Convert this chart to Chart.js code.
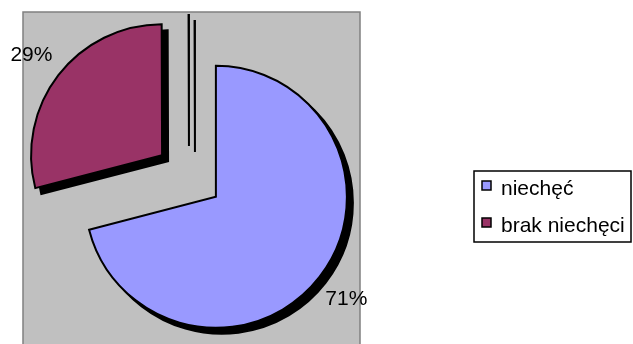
<!DOCTYPE html>
<html>
<head>
<meta charset="utf-8">
<script src="https://cdn.jsdelivr.net/npm/chart.js@4/dist/chart.umd.min.js"></script>
<style>
body { margin: 0; background: #fff; }
</style>
</head>
<body>
<div style="width:633px;height:344px;position:relative"><canvas id="c"></canvas></div>
<script>
// dane z wykresu (trzecia kategoria jest pusta - w oryginale zostaje po niej tylko kreska)
const labels = ['niechęć', 'brak niechęci', ''];
const values = [71, 29, 0.05];
const colors = ['#9999FF', '#993366', '#C0C0C0'];
const explode = [136, 136, 120];   // chart.js v4 przesuwa wycinek o offset/4

const RADIUS = 131;
const FONT = '"Liberation Sans", Arial, sans-serif';

// szare tlo obszaru wykresu + czarny cien pod wycinkami
const plotArea = {
    id: 'plotArea',
    beforeDatasetsDraw(chart) {
        const ctx = chart.ctx;
        ctx.save();
        ctx.fillStyle = '#C0C0C0';
        ctx.fillRect(23, 12, 337, 340);
        ctx.strokeStyle = '#808080';
        ctx.lineWidth = 1.5;
        ctx.strokeRect(23, 12, 337, 340);
        ctx.beginPath();
        ctx.rect(23.5, 12.5, 336, 340);
        ctx.clip();
        // cien: kazdy wycinek jeszcze raz, na czarno i przesuniety
        chart.getDatasetMeta(0).data.forEach(arc => {
            const ghost = Object.create(arc);
            ghost.options = Object.assign({}, arc.options, { backgroundColor: '#000', borderColor: '#000' });
            ctx.save();
            ctx.translate(6, 6);
            ghost.draw(ctx);
            ctx.restore();
        });
    },
    afterDatasetsDraw(chart) {
        chart.ctx.restore();
    }
};

// offset w v4 powieksza promien wycinka i zweza jego luk - cofamy oba efekty,
// zeby wycinki mialy wspolny promien i proste krawedzie
const sameRadius = {
    id: 'sameRadius',
    afterDatasetsUpdate(chart) {
        chart.getDatasetMeta(0).data.forEach((arc, i) => {
            const fix = 1 - Math.sin(Math.min(Math.PI, arc.circumference));
            const grow = (explode[i] / 4) * fix;
            arc.outerRadius = RADIUS - grow;
            const widen = grow / Math.PI / RADIUS / 2;
            arc.startAngle -= widen;
            arc.endAngle += widen;
        });
    }
};

// etykiety procentowe na zewnatrz wycinkow
const pctLabels = {
    id: 'pctLabels',
    afterDatasetsDraw(chart) {
        const ctx = chart.ctx;
        const arcs = chart.getDatasetMeta(0).data;
        const total = values.reduce((s, v) => s + v, 0);
        ctx.save();
        ctx.font = '21px ' + FONT;
        ctx.fillStyle = '#000';
        ctx.textAlign = 'center';
        ctx.textBaseline = 'middle';
        arcs.forEach((arc, i) => {
            if (!labels[i]) return;
            const mid = (arc.startAngle + arc.endAngle) / 2;
            const d = explode[i] / 4 + RADIUS + 34;
            const x = arc.x + Math.cos(mid) * d;
            const y = arc.y + Math.sin(mid) * d;
            ctx.fillText(Math.round(values[i] / total * 100) + '%', x, y + 1);
        });
        ctx.restore();
    }
};

// legenda w ramce po prawej
const boxLegend = {
    id: 'boxLegend',
    afterDraw(chart) {
        const ctx = chart.ctx;
        ctx.save();
        ctx.strokeStyle = '#000';
        ctx.lineWidth = 1.5;
        ctx.fillStyle = '#fff';
        ctx.fillRect(474, 171, 157, 71);
        ctx.strokeRect(474, 171, 157, 71);
        ctx.font = '21px ' + FONT;
        ctx.textBaseline = 'alphabetic';
        ctx.textAlign = 'left';
        let y = 181;
        labels.forEach((lab, i) => {
            if (!lab) return;
            ctx.fillStyle = colors[i];
            ctx.fillRect(482, y, 9, 9);
            ctx.strokeRect(482, y, 9, 9);
            ctx.fillStyle = '#000';
            ctx.fillText(lab, 501, y + 14);
            y += 37;
        });
        ctx.restore();
    }
};

const chart = new Chart(document.getElementById('c'), {
    type: 'pie',
    data: {
        labels: labels,
        datasets: [{
            data: values,
            backgroundColor: colors,
            borderColor: '#000',
            borderWidth: 2,
            borderJoinStyle: 'miter',
            offset: explode,
            radius: RADIUS
        }]
    },
    options: {
        responsive: true,
        maintainAspectRatio: false,
        animation: false,
        events: [],
        layout: { padding: { left: 0, right: 255, top: 8, bottom: 0 } },
        plugins: { legend: { display: false }, tooltip: { enabled: false } }
    },
    plugins: [plotArea, sameRadius, pctLabels, boxLegend]
});
</script>
</body>
</html>
